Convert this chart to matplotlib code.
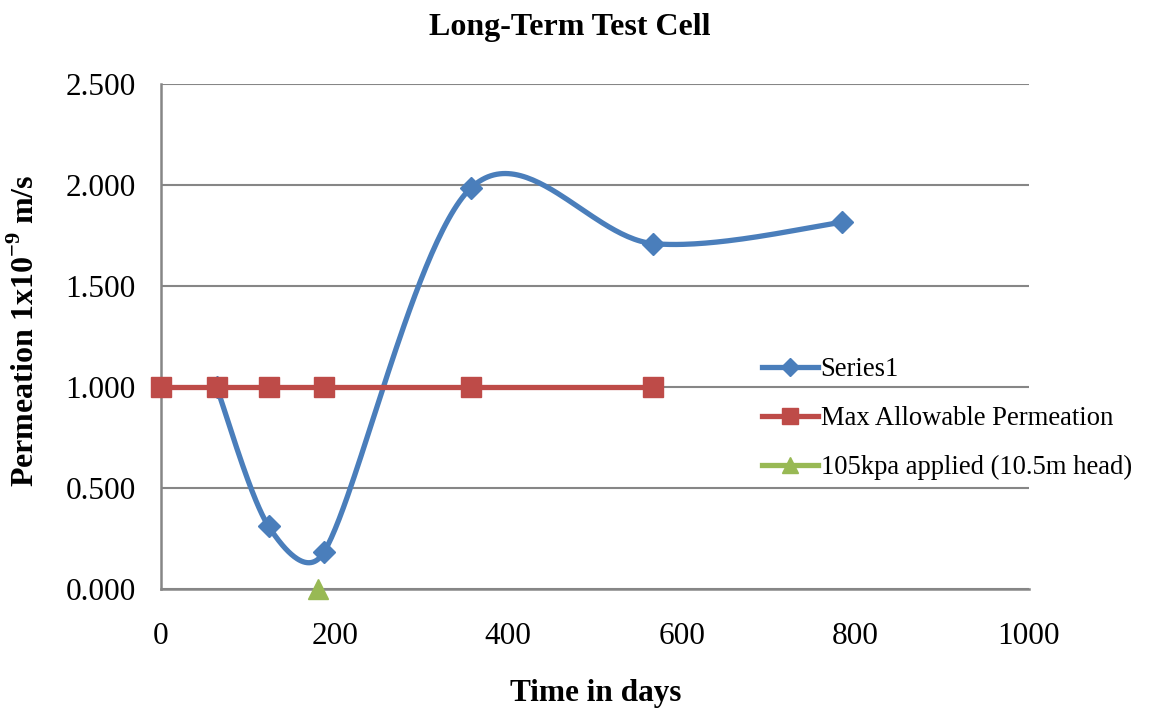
import numpy as np
import matplotlib.pyplot as plt
from matplotlib.lines import Line2D

# values
days = [64, 124, 188, 357, 567, 785]
perm = [1.000, 0.310, 0.184, 1.985, 1.710, 1.815]
max_days = [0, 64, 124, 188, 357, 567]
max_perm = [1.000, 1.000, 1.000, 1.000, 1.000, 1.000]
load_days = [181]
load_perm = [0.000]

x_ticks = [0, 200, 400, 600, 800, 1000]
y_ticks = [0.0, 0.5, 1.0, 1.5, 2.0, 2.5]

BLUE = '#4A7EBB'
RED = '#BE4B48'
GREEN = '#98B954'
GRID = '#868686'

plt.rcParams['font.family'] = ['Liberation Serif', 'DejaVu Serif']
plt.rcParams['mathtext.fontset'] = 'custom'
plt.rcParams['mathtext.rm'] = 'Liberation Serif'
plt.rcParams['mathtext.bf'] = 'Liberation Serif:bold'


def excel_smooth(ax, xs, ys, n=60):
    """Excel-like smoothed line: bezier segments built in screen space"""
    pts = ax.transData.transform(np.column_stack([xs, ys]))
    pts = np.vstack([pts[0], pts, pts[-1]])
    out = []
    for i in range(1, len(pts) - 2):
        p0, p1, p2, p3 = pts[i - 1], pts[i], pts[i + 1], pts[i + 2]
        d12 = np.hypot(*(p2 - p1))
        d02 = np.hypot(*(p2 - p0))
        d13 = np.hypot(*(p3 - p1))
        f1 = 1 / 6 if d02 / 6 < d12 / 2 else d12 / (2 * d02)
        f2 = 1 / 6 if d13 / 6 < d12 / 2 else d12 / (2 * d13)
        c1 = p1 + f1 * (p2 - p0)
        c2 = p2 - f2 * (p3 - p1)
        t = np.linspace(0, 1, n)[:, None]
        seg = ((1 - t) ** 3) * p1 + 3 * ((1 - t) ** 2) * t * c1 \
            + 3 * (1 - t) * t ** 2 * c2 + t ** 3 * p2
        out.append(seg)
    curve = np.vstack(out)
    data = ax.transData.inverted().transform(curve)
    return data[:, 0], data[:, 1]


fig = plt.figure(figsize=(11.49, 7.09), dpi=100)
ax = fig.add_axes([161 / 1149, 120 / 709, 868 / 1149, 505 / 709])
ax.set_xlim(0, 1000)
ax.set_ylim(0, 2.5)

sx, sy = excel_smooth(ax, days, perm)
ax.plot(sx, sy, color=BLUE, lw=3.8, solid_capstyle='round', zorder=3)
ax.plot(days, perm, ls='none', marker='D', ms=11.5, color=BLUE, zorder=4)

ax.plot(max_days, max_perm, color=RED, lw=3.8, marker='s', ms=14.5,
        clip_on=False, zorder=5)
ax.plot(load_days, load_perm, ls='none', marker='^', ms=15, color=GREEN,
        clip_on=False, zorder=6)

ax.set_xticks(x_ticks)
ax.set_yticks(y_ticks)
ax.set_yticklabels([f'{v:.3f}' for v in y_ticks])
ax.tick_params(length=0, labelsize=22.5, colors='black')
ax.tick_params(axis='y', pad=18)
ax.tick_params(axis='x', pad=24)
ax.grid(axis='y', color=GRID, lw=1.5)
ax.set_axisbelow(True)
for s in ['top', 'right']:
    ax.spines[s].set_visible(False)
for s in ['left', 'bottom']:
    ax.spines[s].set_color(GRID)
    ax.spines[s].set_linewidth(1.8)

fig.text(570 / 1149, 1 - 27 / 709, 'Long-Term Test Cell', ha='center',
         va='center', fontsize=23, fontweight='bold')
fig.text(596 / 1149, 1 - 694 / 709, 'Time in days', ha='center',
         va='center', fontsize=22.5, fontweight='bold')
fig.text(25 / 1149, 1 - 331 / 709, r'Permeation 1x10$^{\mathbf{-9}}$ m/s',
         ha='center', va='center', rotation=90, fontsize=23, fontweight='bold')

handles = [
    Line2D([], [], color=BLUE, lw=3.8, marker='D', ms=9),
    Line2D([], [], color=RED, lw=3.8, marker='s', ms=12),
    Line2D([], [], color=GREEN, lw=3.8, marker='^', ms=12),
]
labels = ['Series1', 'Max Allowable Permeation', '105kpa applied (10.5m head)']
fig.legend(handles, labels, loc='upper left',
           bbox_to_anchor=(762 / 1149, 1 - 357 / 709), frameon=False,
           fontsize=19.2, handlelength=2.1, handletextpad=0.1,
           labelspacing=0.9, borderpad=0, borderaxespad=0)

fig.savefig('out.png', dpi=100)
